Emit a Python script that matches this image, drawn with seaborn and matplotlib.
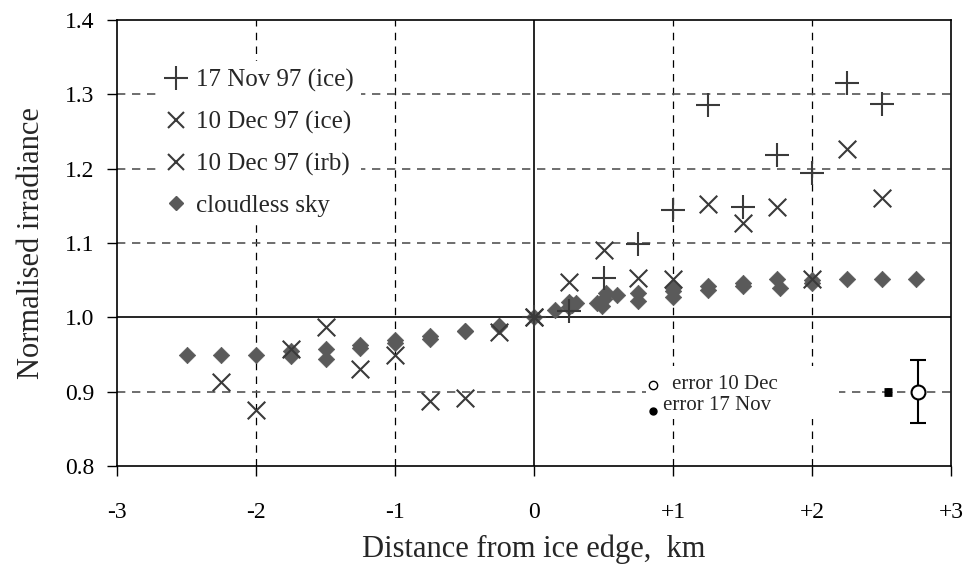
import matplotlib
matplotlib.use("Agg")
import matplotlib.pyplot as plt
from matplotlib.lines import Line2D
from matplotlib.patches import Rectangle
import seaborn as sns
import pandas as pd

# ---- data ----
nov_x = [0, 0.25, 0.5, 0.75, 1.0, 1.25, 1.5, 1.75, 2.0, 2.25, 2.5]
nov_y = [1.0, 1.008, 1.053, 1.099, 1.145, 1.285, 1.148, 1.219, 1.194, 1.315, 1.287]

dec_ice_x = [0, 0.25, 0.5, 0.75, 1.0, 1.25, 1.5, 1.75, 2.0, 2.25, 2.5]
dec_ice_y = [1.0, 1.048, 1.091, 1.053, 1.051, 1.152, 1.127, 1.149, 1.051, 1.226, 1.161]

dec_irb_x = [-2.25, -2.0, -1.75, -1.5, -1.25, -1.0, -0.75, -0.5, -0.25, 0]
dec_irb_y = [0.913, 0.875, 0.957, 0.987, 0.931, 0.950, 0.887, 0.892, 0.980, 1.0]

sky_x = [-2.5, -2.25, -2.0, -1.75, -1.75, -1.5, -1.5, -1.25, -1.25, -1.0, -1.0,
         -0.75, -0.75, -0.5, -0.5, -0.25, -0.25, 0, 0.15, 0.25, 0.27, 0.3, 0.25,
         0.45, 0.49, 0.52, 0.5, 0.6, 0.75, 0.75, 1.0, 1.0, 1.0, 1.25, 1.25,
         1.5, 1.5, 1.75, 1.77, 2.0, 2.0, 2.25, 2.5, 2.75]
sky_y = [0.95, 0.95, 0.95, 0.955, 0.948, 0.957, 0.944, 0.963, 0.959, 0.969, 0.966,
         0.975, 0.971, 0.982, 0.981, 0.989, 0.988, 1.0, 1.01, 1.02, 1.017, 1.019, 1.014,
         1.019, 1.015, 1.033, 1.025, 1.030, 1.033, 1.022, 1.040, 1.035, 1.028, 1.042, 1.037,
         1.046, 1.042, 1.051, 1.040, 1.050, 1.046, 1.051, 1.051, 1.051]

err_x = [2.55, 2.76]
err_y = [0.90, 0.90]
err_size = [0.004, 0.042]

x_ticks = [-3, -2, -1, 0, 1, 2, 3]
x_ticklabels = ["-3", "-2", "-1", "0", "+1", "+2", "+3"]
y_ticks = [0.8, 0.9, 1.0, 1.1, 1.2, 1.3, 1.4]
y_ticklabels = ["0.8", "0.9", "1.0", "1.1", "1.2", "1.3", "1.4"]

legend_labels = ["17 Nov 97 (ice)", "10 Dec 97 (ice)", "10 Dec 97 (irb)", "cloudless sky"]

# ---- style ----
sns.set_style("white")
plt.rcParams["font.family"] = ["Liberation Serif", "DejaVu Serif"]

fig = plt.figure(figsize=(9.66, 5.69), dpi=100)
ax = fig.add_axes([117 / 966, 1 - 466 / 569, (951 - 117) / 966, (466 - 20) / 569])

mark_col = "#3a3a3a"
sky_col = "#5a5a5a"

# grid lines
for xv in [-2, -1, 1, 2]:
    ax.axvline(xv, color="black", lw=0.9, ls=(0, (6, 5)), zorder=0)
for yv in [0.9, 1.1, 1.2, 1.3]:
    ax.axhline(yv, color="#555555", lw=1.2, ls=(0, (5, 4)), zorder=0)
ax.axvline(0, color="black", lw=1.2, zorder=0.5)
ax.axhline(1.0, color="black", lw=1.2, zorder=0.5)

# white box behind the error annotation
ax.add_patch(Rectangle((0.806, 0.863), 2.194 - 0.806, 0.934 - 0.863,
                       facecolor="white", edgecolor="none", zorder=1))

df_sky = pd.DataFrame({"x": sky_x, "y": sky_y})
sns.scatterplot(data=df_sky, x="x", y="y", marker="D", s=70, color=sky_col,
                edgecolor=sky_col, linewidth=0.5, ax=ax, zorder=3)

df_irb = pd.DataFrame({"x": dec_irb_x, "y": dec_irb_y})
sns.scatterplot(data=df_irb, x="x", y="y", marker="x", s=160, color=mark_col,
                linewidth=1.5, ax=ax, zorder=4)
df_ice = pd.DataFrame({"x": dec_ice_x, "y": dec_ice_y})
sns.scatterplot(data=df_ice, x="x", y="y", marker="x", s=160, color=mark_col,
                linewidth=1.5, ax=ax, zorder=4)
df_nov = pd.DataFrame({"x": nov_x, "y": nov_y})
sns.scatterplot(data=df_nov, x="x", y="y", marker="+", s=300, color=mark_col,
                linewidth=1.5, ax=ax, zorder=4)

# error bars
ax.errorbar(err_x[0], err_y[0], yerr=err_size[0], fmt="o", ms=5, color="black",
            mfc="black", capsize=3, capthick=2, elinewidth=2, zorder=5)
ax.errorbar(err_x[1], err_y[1], yerr=err_size[1], fmt="o", ms=10, color="black",
            mfc="white", mew=1.5, capsize=5.5, capthick=1.5, elinewidth=1.5, zorder=5)

# error annotation
ax.plot([0.858], [0.909], "o", ms=6, mfc="white", mec="black", mew=1.0, zorder=6)
ax.plot([0.858], [0.874], "o", ms=5, mfc="black", mec="black", zorder=6)
ax.text(0.99, 0.910, "error 10 Dec", fontsize=15, va="center", ha="left", zorder=6)
ax.text(0.93, 0.881, "error 17 Nov", fontsize=15, va="center", ha="left", zorder=6)

ax.set_xlim(-3, 3)
ax.set_ylim(0.8, 1.4)
ax.set_xticks(x_ticks)
ax.set_xticklabels(x_ticklabels)
ax.set_yticks(y_ticks)
ax.set_yticklabels(y_ticklabels)
ax.tick_params(axis="both", labelsize=17, direction="out", length=7, width=1,
               color="black", labelcolor="black", bottom=True, left=True)
ax.tick_params(axis="x", pad=19)
ax.tick_params(axis="y", pad=9)
ax.set_xlabel("Distance from ice edge,  km", fontsize=22, labelpad=8)
ax.set_ylabel("Normalised irradiance", fontsize=22, labelpad=14)
for sp in ax.spines.values():
    sp.set_color("black")
    sp.set_linewidth(1.2)

handles = [
    Line2D([], [], ls="none", marker="+", ms=17, mew=1.5, color=mark_col),
    Line2D([], [], ls="none", marker="x", ms=12, mew=1.5, color=mark_col),
    Line2D([], [], ls="none", marker="x", ms=12, mew=1.5, color=mark_col),
    Line2D([], [], ls="none", marker="D", ms=7, color=sky_col),
]
leg = ax.legend(handles, legend_labels, loc="upper left", bbox_to_anchor=(0.035, 0.935),
                fontsize=18, frameon=True, facecolor="white", edgecolor="none",
                framealpha=1, fancybox=False, handlelength=0.8, handletextpad=0.4,
                labelspacing=0.75, borderpad=0.3)
leg.set_zorder(7)

fig.savefig("out.png", dpi=100)
